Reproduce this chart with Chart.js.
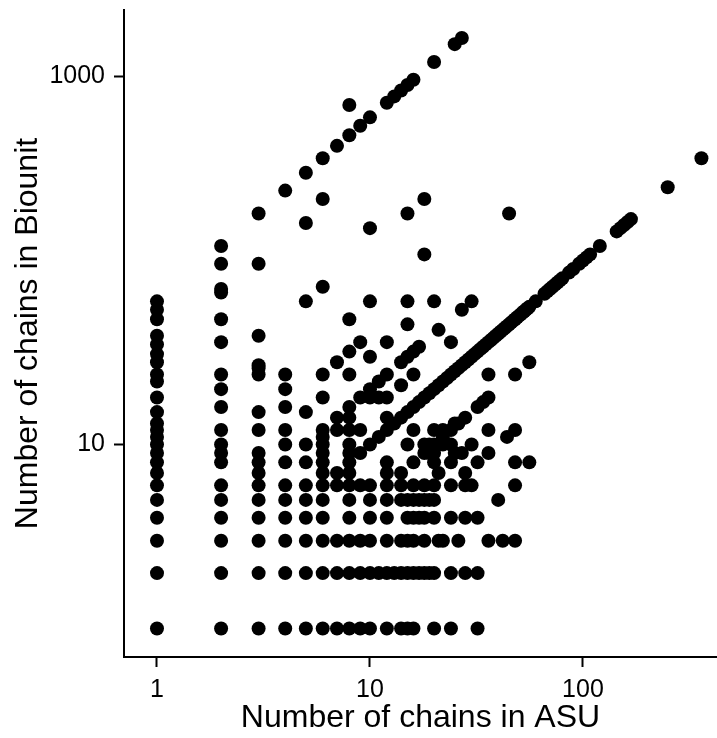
<!DOCTYPE html>
<html>
<head>
<meta charset="utf-8">
<script src="https://cdn.jsdelivr.net/npm/chart.js@4"></script>
<style>
  html, body { margin: 0; padding: 0; background: #fff; }
  canvas { display: block; }
</style>
</head>
<body>
<canvas id="c" width="717" height="738"></canvas>
<script>
// Number of chains in the asymmetric unit (x) and, for each, the biounit chain counts observed (y)
const asuCounts = [1,2,3,4,5,6,7,8,9,10,11,12,13,14,15,16,17,18,19,20,21,22,23,24,25,26,27,28,29,30,32,34,36,40,42,44,45,48,56];
const biounitCounts = [
  [1,2,3,4,5,6,7,8,9,10,11,12,13,15,18,22,24,28,31,35,39,48,54,60],
  [1,2,3,4,5,6,8,9,10,12,16,20,24,36,48,67,70,96,120],
  [1,2,3,4,5,6,7,8,9,12,15,24,26,27,39,96,180],
  [1,2,3,4,5,6,8,10,12,16,20,24,240],
  [1,2,3,4,5,6,8,10,15,60,160,300],
  [1,2,3,4,5,6,7,8,9,10,11,12,18,24,72,216,360],
  [1,2,3,6,7,12,14,28,420],
  [1,2,3,4,5,6,7,8,9,10,12,14,16,24,32,48,480,700],
  [1,2,3,6,9,12,18,36,540],
  [1,2,3,4,5,6,10,18,20,30,60,150,600],
  [2,11,18,22],
  [1,2,3,4,5,6,7,8,12,14,18,24,36,720],
  [2,13,780],
  [1,2,3,5,6,7,14,21,28,840],
  [1,2,3,4,5,10,15,30,45,60,180,900],
  [1,2,3,4,5,6,8,12,16,24,32,960],
  [2,4,5,17,34],
  [2,3,4,5,6,9,10,18,108,216],
  [2,5,9,10,19],
  [1,2,4,5,6,8,9,10,12,20,60,1200],
  [3,7,21,42],
  [3,10,11,12,22],
  [23],
  [1,2,4,6,8,10,12,24,36],
  [9,13,25,1500],
  [3,13,26],
  [9,27,54,1620],
  [2,4,6,7,14,28],
  [29],
  [6,10,30,60],
  [1,2,4,8,16,32],
  [17,34],
  [3,9,12,18,24,36],
  [5,40],
  [3,42],
  [11,44],
  [45,180],
  [3,6,8,12,24,48],
  [8,28,56]
];
// Biounit equal to ASU (dense diagonal), values not covered above
const diagonalCounts = [31,33,35,37,38,39,41,43,46,47,49,50,51,52,53,54,55,60,66,68,70,72,74,76,78,80,86,90,96,100,104,108,120,144,150,156,162,168,250,360];

const xTicks = [1, 10, 100];
const yTicks = [10, 1000];
const xTitle = 'Number of chains in ASU';
const yTitle = 'Number of chains in Biounit';

const points = [];
asuCounts.forEach((a, i) => biounitCounts[i].forEach(b => points.push({x: a, y: b})));
diagonalCounts.forEach(v => points.push({x: v, y: v}));

const FAMILY = '"Liberation Sans", Arial, Helvetica, sans-serif';

function noPad(s) { s.paddingTop = 0; s.paddingBottom = 0; s.paddingLeft = 0; s.paddingRight = 0; }

new Chart(document.getElementById('c'), {
  type: 'scatter',
  data: {
    datasets: [{
      data: points,
      backgroundColor: '#000',
      borderWidth: 0,
      pointRadius: 7,
      pointHoverRadius: 7
    }]
  },
  options: {
    responsive: false,
    animation: false,
    events: [],
    layout: { autoPadding: false, padding: { top: 10, right: 0, left: 0, bottom: 0 } },
    plugins: { legend: { display: false }, tooltip: { enabled: false } },
    scales: {
      x: {
        type: 'logarithmic',
        position: 'bottom',
        min: 0.74,
        max: 426,
        afterBuildTicks: s => { s.ticks = xTicks.map(v => ({ value: v })); },
        afterFit: s => { s.height = 81; noPad(s); },
        ticks: {
          color: '#000', autoSkip: false, maxRotation: 0, padding: 8,
          font: { size: 25, family: FAMILY },
          callback: v => String(v)
        },
        grid: { drawOnChartArea: false, drawTicks: true, tickLength: 10, tickColor: '#000', tickWidth: 2 },
        border: { display: true, color: '#000', width: 2 },
        title: { display: true, text: xTitle, color: '#000', font: { size: 32, family: FAMILY }, padding: { top: 0, bottom: 1 } }
      },
      y: {
        type: 'logarithmic',
        position: 'left',
        min: 0.70,
        max: 2300,
        afterBuildTicks: s => { s.ticks = yTicks.map(v => ({ value: v })); },
        afterFit: s => { s.width = 124; noPad(s); },
        ticks: {
          color: '#000', autoSkip: false, padding: 9,
          font: { size: 25, family: FAMILY },
          callback: v => String(v)
        },
        grid: { drawOnChartArea: false, drawTicks: true, tickLength: 10, tickColor: '#000', tickWidth: 2 },
        border: { display: true, color: '#000', width: 2 },
        title: { display: true, text: yTitle, color: '#000', font: { size: 32, family: FAMILY }, padding: { top: 9, bottom: 0 } }
      }
    }
  }
});
</script>
</body>
</html>
